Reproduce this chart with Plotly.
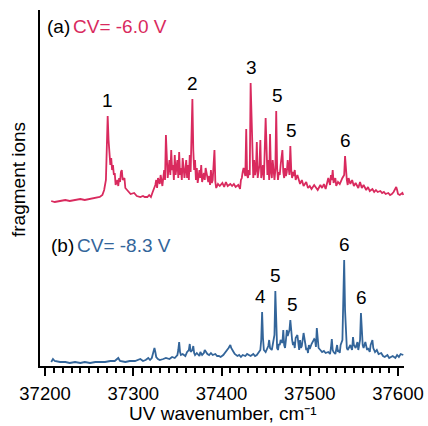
import plotly.graph_objects as go

# ---------------- data ----------------
# wavenumber offsets from 37200 cm-1 and fragment-ion signal (arb. units)
red_w = [7, 11, 17, 23, 28, 34, 40, 45, 51, 57, 62, 65, 67, 69, 70, 71, 72, 74, 75, 76, 77, 78, 79, 80,
         82, 83, 84, 85, 86, 87, 88, 90, 91, 93, 95, 97, 101, 104, 108, 111, 113, 116, 118, 120, 122,
         125, 126, 127, 128, 130, 131, 133, 135, 136, 137, 138, 139, 141, 142, 143, 144, 145, 146, 147,
         148, 150, 151, 152, 153, 154, 155, 156, 158, 159, 160, 161, 162, 163, 164, 165, 167, 168, 169,
         170, 171, 172, 173, 175, 176, 177, 178, 180, 181, 182, 185, 186, 187, 188, 189, 190, 192, 193,
         194, 196, 198, 201, 203, 205, 207, 210, 212, 214, 216, 219, 221, 222, 223, 224, 225, 227, 228,
         229, 230, 231, 232, 233, 235, 236, 237, 238, 239, 240, 241, 243, 244, 245, 246, 247, 248, 249,
         250, 252, 253, 254, 255, 256, 257, 258, 260, 261, 262, 263, 264, 265, 266, 267, 269, 270, 271,
         272, 273, 274, 275, 277, 278, 279, 280, 281, 282, 283, 284, 286, 287, 289, 291, 293, 296, 298,
         300, 302, 305, 307, 309, 312, 314, 316, 318, 321, 323, 324, 325, 326, 327, 329, 330, 332, 334,
         337, 339, 340, 341, 342, 343, 344, 346, 348, 350, 352, 355, 357, 359, 361, 364, 366, 368, 371,
         373, 375, 377, 380, 382, 384, 386, 389, 391, 393, 395, 398, 399, 400, 402, 405, 406]
red_i = [5, 4, 5, 6, 5, 6, 7, 6, 7, 8, 9, 11, 16, 26, 56, 90, 66, 41, 48, 36, 41, 31, 33, 21,
         26, 20, 28, 24, 34, 36, 26, 28, 18, 16, 14, 12, 13, 10, 9, 10, 9, 9, 11, 9, 14,
         21, 26, 18, 28, 22, 31, 20, 36, 26, 71, 36, 28, 46, 31, 56, 36, 41, 26, 51,
         31, 46, 28, 54, 31, 38, 26, 48, 28, 36, 46, 28, 41, 26, 51, 34, 107, 56, 36,
         46, 26, 38, 23, 36, 28, 41, 24, 33, 26, 38, 24, 30, 21, 36, 23, 26, 56, 24,
         18, 22, 20, 23, 19, 24, 20, 22, 20, 22, 19, 21, 17, 26, 28, 34, 38, 30, 77,
         31, 28, 36, 31, 123, 36, 28, 46, 31, 36, 64, 28, 41, 66, 28, 34, 41, 26, 56,
         88, 31, 46, 26, 72, 34, 28, 46, 26, 36, 95, 38, 26, 34, 31, 41, 56, 34, 28,
         38, 30, 34, 46, 31, 60, 36, 28, 34, 30, 36, 26, 31, 28, 22, 26, 20, 24, 18,
         20, 17, 21, 18, 16, 21, 18, 22, 17, 28, 21, 31, 26, 36, 23, 28, 20, 24, 22,
         28, 31, 50, 36, 26, 21, 28, 22, 26, 20, 23, 18, 24, 18, 21, 16, 19, 15, 17,
         14, 16, 14, 15, 13, 14, 12, 13, 11, 12, 14, 19, 16, 12, 11, 13, 11]

blue_w = [7, 9, 11, 17, 23, 28, 34, 40, 45, 51, 57, 62, 68, 74, 79, 83, 85, 91, 96, 102, 108, 111,
          114, 117, 119, 121, 122, 124, 125, 126, 128, 130, 134, 137, 141, 144, 147, 150, 151, 152,
          153, 154, 156, 159, 161, 163, 164, 165, 167, 168, 169, 170, 172, 175, 176, 178, 180, 181,
          184, 186, 188, 190, 193, 195, 197, 199, 202, 204, 206, 208, 210, 211, 213, 215, 218, 220,
          222, 224, 227, 229, 231, 233, 236, 238, 240, 243, 244, 245, 246, 247, 248, 250, 253, 254,
          255, 257, 258, 260, 261, 262, 263, 264, 265, 266, 267, 269, 270, 271, 272, 273, 274, 275,
          277, 278, 279, 280, 281, 282, 283, 284, 286, 287, 288, 289, 290, 291, 292, 293, 295, 296,
          297, 298, 299, 300, 302, 305, 306, 307, 308, 309, 310, 312, 314, 316, 318, 321, 323, 324,
          325, 326, 327, 329, 330, 331, 332, 333, 334, 335, 337, 338, 339, 340, 341, 342, 343, 346,
          347, 348, 349, 350, 352, 354, 355, 356, 357, 358, 359, 360, 361, 363, 364, 365, 366, 368,
          369, 371, 372, 374, 376, 378, 381, 383, 385, 388, 390, 392, 394, 397, 399, 401, 403, 406]
blue_i = [4, 7, 5, 4, 4, 3, 4, 3, 4, 3, 4, 4, 4, 5, 5, 8, 5, 4, 5, 5, 7, 5,
          6, 8, 6, 8, 12, 18, 14, 9, 7, 6, 7, 8, 7, 9, 8, 11, 16, 24,
          14, 11, 12, 10, 14, 16, 22, 14, 16, 20, 13, 11, 13, 10, 14, 11, 13, 16,
          12, 11, 13, 11, 12, 10, 10, 9, 11, 13, 16, 18, 21, 18, 15, 12, 10, 11,
          9, 11, 10, 12, 11, 10, 12, 10, 11, 14, 16, 26, 54, 28, 16, 14, 20, 26,
          18, 16, 21, 31, 75, 36, 18, 16, 22, 21, 26, 23, 36, 21, 18, 26, 36, 30,
          36, 46, 34, 26, 21, 24, 18, 28, 31, 21, 16, 26, 18, 20, 28, 33, 22, 16,
          18, 13, 21, 17, 22, 27, 26, 19, 38, 26, 18, 16, 14, 15, 13, 14, 12, 18,
          27, 16, 14, 12, 16, 21, 14, 16, 13, 21, 26, 66, 106, 56, 26, 18, 16, 21,
          18, 16, 29, 21, 18, 24, 16, 21, 26, 53, 31, 21, 18, 24, 20, 16, 18, 14,
          21, 26, 18, 14, 16, 12, 13, 10, 9, 11, 8, 9, 10, 8, 11, 9, 12, 11]

base_w = 37200
red_offset = 160          # vertical offset of trace (a)

# peak labels: (text, label wavenumber offset, trace)
labels = [("1", 71, "a"), ("2", 167, "a"), ("3", 234, "a"), ("5", 264, "a"), ("5", 279, "a"),
          ("6", 341, "a"),
          ("4", 244, "b"), ("5", 261, "b"), ("5", 280, "b"), ("6", 339, "b"), ("6", 359, "b")]

x_ticks = [37200, 37300, 37400, 37500, 37600]

RED = "#d92a5e"
BLUE = "#33659a"
FONT = "Liberation Sans, Arial, Helvetica, sans-serif"

red_x = [base_w + w for w in red_w]
red_y = [v + red_offset for v in red_i]
blue_x = [base_w + w for w in blue_w]
blue_y = list(blue_i)

fig = go.Figure()
fig.add_trace(go.Scatter(x=red_x, y=red_y, mode="lines",
                         line=dict(color=RED, width=1.8), showlegend=False))
fig.add_trace(go.Scatter(x=blue_x, y=blue_y, mode="lines",
                         line=dict(color=BLUE, width=1.8), showlegend=False))

annotations = []
for text, w, tr in labels:
    xs, ys = (red_x, red_y) if tr == "a" else (blue_x, blue_y)
    wx = base_w + w
    near = [yy for xx, yy in zip(xs, ys) if abs(xx - wx) <= 2.5]
    annotations.append(dict(x=wx, y=max(near), xref="x", yref="y", text=text,
                            showarrow=False, xanchor="center", yanchor="bottom", yshift=3,
                            font=dict(size=19, color="black", family=FONT)))

def px2paper_x(px):
    return (px - 40) / 364.0

def px2paper_y(py):
    return (366 - py) / 356.0

annotations += [
    dict(x=px2paper_x(45), y=px2paper_y(26), xref="paper", yref="paper", text="(a)",
         showarrow=False, xanchor="left", yanchor="middle",
         font=dict(size=19, color="black", family=FONT)),
    dict(x=px2paper_x(71), y=px2paper_y(26), xref="paper", yref="paper", text="CV= -6.0 V",
         showarrow=False, xanchor="left", yanchor="middle",
         font=dict(size=19, color=RED, family=FONT)),
    dict(x=px2paper_x(49), y=px2paper_y(245), xref="paper", yref="paper", text="(b)",
         showarrow=False, xanchor="left", yanchor="middle",
         font=dict(size=19, color="black", family=FONT)),
    dict(x=px2paper_x(75), y=px2paper_y(245), xref="paper", yref="paper", text="CV= -8.3 V",
         showarrow=False, xanchor="left", yanchor="middle",
         font=dict(size=19, color=BLUE, family=FONT)),
    dict(x=px2paper_x(19), y=px2paper_y(180), xref="paper", yref="paper", text="fragment ions",
         showarrow=False, xanchor="center", yanchor="middle", textangle=-90,
         font=dict(size=19, color="black", family=FONT)),
    dict(x=px2paper_x(223), y=px2paper_y(414), xref="paper", yref="paper",
         text="UV wavenumber, cm\u207b\u00b9", borderpad=0,
         showarrow=False, xanchor="center", yanchor="middle",
         font=dict(size=19, color="black", family=FONT)),
]

fig.update_layout(
    width=428, height=426,
    margin=dict(l=40, r=24, t=10, b=60, autoexpand=False),
    paper_bgcolor="white", plot_bgcolor="white",
    font=dict(family=FONT, size=19, color="black"),
    annotations=annotations,
    xaxis=dict(range=[37194.3, 37606.8], showgrid=False, zeroline=False, automargin=False,
               showline=True, linecolor="black", linewidth=2,
               ticks="outside", ticklen=8, tickwidth=1.5, tickcolor="black",
               tickvals=x_ticks, ticktext=[str(t) for t in x_ticks],
               ticklabelstandoff=2,
               tickfont=dict(size=18.5, family=FONT, color="black"),
               minor=dict(dtick=10, tick0=37200, ticks="outside", ticklen=4.5,
                          tickwidth=1.5, tickcolor="black", showgrid=False)),
    yaxis=dict(range=[0, 356], showgrid=False, zeroline=False, showticklabels=False,
               automargin=False,
               showline=True, linecolor="black", linewidth=2, ticks=""),
)

fig.write_html("out.html")
